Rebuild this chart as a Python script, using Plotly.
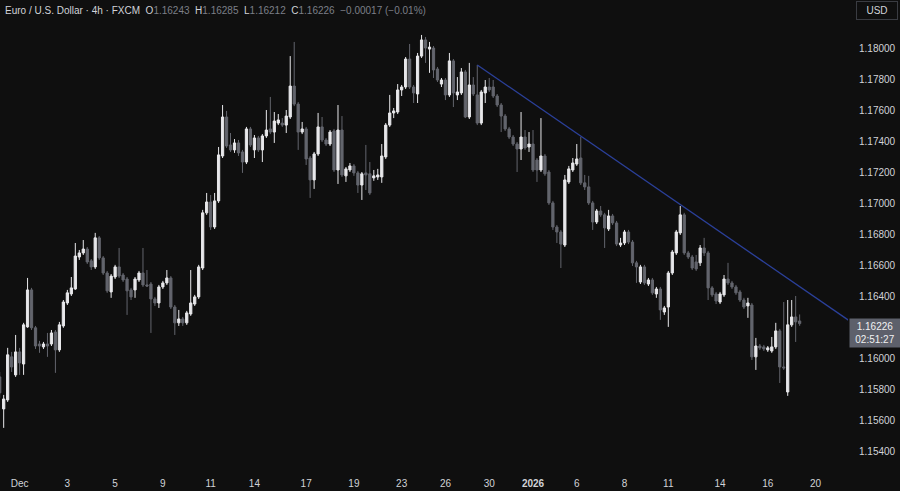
import plotly.graph_objects as go

opens = [
    1.15883, 1.15677, 1.15735, 1.16012, 1.15896, 1.16044, 1.15966, 1.16205, 1.16443, 1.16199,
    1.16095, 1.16076, 1.16095, 1.16095, 1.16172, 1.16057, 1.16211, 1.16359, 1.16417, 1.16449,
    1.16655, 1.16681, 1.16706, 1.16630, 1.16591, 1.16778, 1.16649, 1.16552, 1.16430, 1.16526,
    1.16591, 1.16539, 1.16513, 1.16443, 1.16443, 1.16507, 1.16552, 1.16475, 1.16481, 1.16385,
    1.16359, 1.16462, 1.16488, 1.16520, 1.16333, 1.16231, 1.16256, 1.16231, 1.16288, 1.16352,
    1.16398, 1.16584, 1.16939, 1.17009, 1.16848, 1.17016, 1.17305, 1.17556, 1.17376, 1.17344,
    1.17389, 1.17331, 1.17266, 1.17479, 1.17344, 1.17421, 1.17344, 1.17434, 1.17479, 1.17459,
    1.17517, 1.17517, 1.17504, 1.17556, 1.17755, 1.17639, 1.17459, 1.17479, 1.17292, 1.17151,
    1.17318, 1.17492, 1.17408, 1.17382, 1.17466, 1.17215, 1.17472, 1.17177, 1.17215, 1.17241,
    1.17196, 1.17118, 1.17196, 1.17190, 1.17164, 1.17170, 1.17170, 1.17299, 1.17504, 1.17582,
    1.17588, 1.17730, 1.17749, 1.17929, 1.17749, 1.17704, 1.17948, 1.18052, 1.17993, 1.18000,
    1.17865, 1.17768, 1.17794, 1.17698, 1.17917, 1.17698, 1.17711, 1.17846, 1.17556, 1.17762,
    1.17698, 1.17517, 1.17711, 1.17749, 1.17749, 1.17691, 1.17633, 1.17562, 1.17479, 1.17427,
    1.17382, 1.17350, 1.17427, 1.17363, 1.17382, 1.17279, 1.17215, 1.17305, 1.17202, 1.17003,
    1.16848, 1.16816, 1.16732, 1.17138, 1.17215, 1.17253, 1.17292, 1.17132, 1.17106, 1.17003,
    1.16880, 1.16951, 1.16926, 1.16835, 1.16919, 1.16874, 1.16732, 1.16745, 1.16816, 1.16751,
    1.16617, 1.16494, 1.16591, 1.16481, 1.16507, 1.16417, 1.16449, 1.16301, 1.16333, 1.16552,
    1.16681, 1.16810, 1.16926, 1.16681, 1.16655, 1.16623, 1.16617, 1.16713, 1.16681, 1.16456,
    1.16417, 1.16365, 1.16411, 1.16513, 1.16488, 1.16462, 1.16430, 1.16378, 1.16340, 1.16346,
    1.16012, 1.16082, 1.16076, 1.16057, 1.16050, 1.16076, 1.16179, 1.15947, 1.15786, 1.16218,
    1.16269, 1.16243,
]

highs = [
    1.15915, 1.15767, 1.16070, 1.16044, 1.16153, 1.16070, 1.16231, 1.16520, 1.16456, 1.16211,
    1.16115, 1.16108, 1.16166, 1.16185, 1.16185, 1.16237, 1.16378, 1.16443, 1.16526, 1.16745,
    1.16700, 1.16764, 1.16719, 1.16642, 1.16810, 1.16790, 1.16661, 1.16565, 1.16545, 1.16604,
    1.16713, 1.16552, 1.16526, 1.16456, 1.16526, 1.16565, 1.16713, 1.16571, 1.16494, 1.16398,
    1.16475, 1.16501, 1.16571, 1.16532, 1.16346, 1.16314, 1.16269, 1.16308, 1.16571, 1.16411,
    1.16604, 1.16958, 1.17067, 1.17054, 1.17067, 1.17363, 1.17633, 1.17595, 1.17453, 1.17414,
    1.17408, 1.17344, 1.17492, 1.17492, 1.17440, 1.17434, 1.17446, 1.17601, 1.17685, 1.17588,
    1.17575, 1.17549, 1.17601, 1.17948, 1.18039, 1.17652, 1.17524, 1.17492, 1.17305, 1.17331,
    1.17582, 1.17556, 1.17421, 1.17472, 1.17479, 1.17633, 1.17562, 1.17234, 1.17260, 1.17253,
    1.17209, 1.17202, 1.17376, 1.17266, 1.17215, 1.17222, 1.17382, 1.17517, 1.17698, 1.17614,
    1.17768, 1.17762, 1.17942, 1.18026, 1.17762, 1.17968, 1.18084, 1.18071, 1.18039, 1.18013,
    1.17878, 1.17807, 1.17807, 1.17968, 1.17929, 1.17813, 1.17871, 1.17859, 1.17904, 1.17813,
    1.17891, 1.17730, 1.17794, 1.17807, 1.17794, 1.17704, 1.17646, 1.17575, 1.17492, 1.17440,
    1.17395, 1.17588, 1.17472, 1.17459, 1.17472, 1.17292, 1.17549, 1.17318, 1.17215, 1.17016,
    1.16861, 1.16829, 1.17183, 1.17241, 1.17292, 1.17382, 1.17427, 1.17183, 1.17177, 1.17016,
    1.16964, 1.16983, 1.16939, 1.16958, 1.16932, 1.16887, 1.16778, 1.16829, 1.16829, 1.16764,
    1.16630, 1.16604, 1.16604, 1.16520, 1.16520, 1.16462, 1.16462, 1.16340, 1.16565, 1.16700,
    1.16829, 1.16983, 1.16939, 1.16694, 1.16668, 1.16668, 1.16732, 1.16778, 1.16694, 1.16468,
    1.16430, 1.16430, 1.16539, 1.16617, 1.16501, 1.16475, 1.16443, 1.16392, 1.16392, 1.16359,
    1.16134, 1.16095, 1.16089, 1.16082, 1.16140, 1.16231, 1.16192, 1.16365, 1.16378, 1.16378,
    1.16404, 1.16285,
]

lows = [
    1.15748, 1.15555, 1.15722, 1.15915, 1.15883, 1.15896, 1.15896, 1.16199, 1.16185, 1.16063,
    1.16038, 1.16063, 1.16012, 1.16082, 1.15909, 1.16044, 1.16199, 1.16346, 1.16404, 1.16443,
    1.16636, 1.16668, 1.16610, 1.16571, 1.16578, 1.16636, 1.16539, 1.16424, 1.16392, 1.16513,
    1.16520, 1.16494, 1.16282, 1.16378, 1.16392, 1.16494, 1.16462, 1.16462, 1.16166, 1.16340,
    1.16327, 1.16449, 1.16475, 1.16320, 1.16153, 1.16211, 1.16211, 1.16218, 1.16276, 1.16340,
    1.16385, 1.16571, 1.16926, 1.16829, 1.16835, 1.17003, 1.17292, 1.17357, 1.17331, 1.17325,
    1.17305, 1.17196, 1.17253, 1.17363, 1.17292, 1.17331, 1.17266, 1.17421, 1.17446, 1.17389,
    1.17504, 1.17492, 1.17453, 1.17543, 1.17626, 1.17344, 1.17446, 1.17247, 1.17035, 1.17093,
    1.17305, 1.17395, 1.17369, 1.17369, 1.17202, 1.17125, 1.17170, 1.17138, 1.17202, 1.17177,
    1.17067, 1.17022, 1.17086, 1.17054, 1.17145, 1.17151, 1.17132, 1.17286, 1.17492, 1.17549,
    1.17575, 1.17691, 1.17736, 1.17736, 1.17646, 1.17646, 1.17936, 1.17904, 1.17840, 1.17807,
    1.17781, 1.17749, 1.17665, 1.17685, 1.17620, 1.17665, 1.17698, 1.17549, 1.17543, 1.17691,
    1.17504, 1.17504, 1.17646, 1.17717, 1.17678, 1.17620, 1.17459, 1.17466, 1.17414, 1.17369,
    1.17202, 1.17279, 1.17344, 1.17331, 1.17202, 1.17138, 1.17202, 1.17177, 1.16990, 1.16829,
    1.16745, 1.16584, 1.16719, 1.17125, 1.17202, 1.17241, 1.17118, 1.17086, 1.16990, 1.16829,
    1.16867, 1.16913, 1.16713, 1.16822, 1.16861, 1.16725, 1.16719, 1.16732, 1.16738, 1.16597,
    1.16488, 1.16481, 1.16475, 1.16468, 1.16411, 1.16392, 1.16250, 1.16282, 1.16205, 1.16539,
    1.16668, 1.16797, 1.16668, 1.16642, 1.16571, 1.16565, 1.16597, 1.16661, 1.16378, 1.16398,
    1.16352, 1.16352, 1.16398, 1.16475, 1.16449, 1.16411, 1.16365, 1.16320, 1.16263, 1.15992,
    1.15928, 1.16057, 1.16050, 1.16044, 1.16038, 1.16063, 1.15844, 1.15928, 1.15761, 1.16205,
    1.16108, 1.16212,
]

closes = [
    1.15780, 1.15741, 1.16025, 1.15947, 1.16044, 1.15973, 1.16218, 1.16443, 1.16199, 1.16082,
    1.16082, 1.16095, 1.16082, 1.16166, 1.16057, 1.16218, 1.16365, 1.16424, 1.16456, 1.16661,
    1.16681, 1.16706, 1.16623, 1.16591, 1.16778, 1.16649, 1.16552, 1.16437, 1.16532, 1.16591,
    1.16532, 1.16507, 1.16437, 1.16398, 1.16513, 1.16552, 1.16475, 1.16468, 1.16385, 1.16359,
    1.16462, 1.16488, 1.16520, 1.16333, 1.16231, 1.16256, 1.16231, 1.16295, 1.16359, 1.16398,
    1.16591, 1.16939, 1.17009, 1.16848, 1.17016, 1.17312, 1.17556, 1.17369, 1.17344, 1.17389,
    1.17325, 1.17266, 1.17479, 1.17376, 1.17421, 1.17344, 1.17434, 1.17472, 1.17459, 1.17530,
    1.17537, 1.17504, 1.17562, 1.17755, 1.17639, 1.17459, 1.17479, 1.17286, 1.17151, 1.17318,
    1.17492, 1.17408, 1.17382, 1.17459, 1.17215, 1.17472, 1.17183, 1.17222, 1.17241, 1.17196,
    1.17118, 1.17190, 1.17183, 1.17067, 1.17177, 1.17183, 1.17305, 1.17504, 1.17582, 1.17595,
    1.17730, 1.17749, 1.17929, 1.17749, 1.17711, 1.17948, 1.18052, 1.18000, 1.18006, 1.17859,
    1.17794, 1.17794, 1.17698, 1.17917, 1.17711, 1.17717, 1.17846, 1.17556, 1.17762, 1.17704,
    1.17517, 1.17717, 1.17749, 1.17730, 1.17691, 1.17633, 1.17562, 1.17479, 1.17427, 1.17382,
    1.17350, 1.17427, 1.17357, 1.17382, 1.17215, 1.17215, 1.17305, 1.17190, 1.17003, 1.16848,
    1.16816, 1.16738, 1.17151, 1.17222, 1.17260, 1.17286, 1.17132, 1.17106, 1.17003, 1.16880,
    1.16951, 1.16926, 1.16842, 1.16919, 1.16874, 1.16738, 1.16745, 1.16816, 1.16751, 1.16617,
    1.16591, 1.16591, 1.16488, 1.16507, 1.16424, 1.16449, 1.16314, 1.16327, 1.16552, 1.16687,
    1.16816, 1.16926, 1.16681, 1.16655, 1.16584, 1.16578, 1.16713, 1.16681, 1.16456, 1.16411,
    1.16372, 1.16417, 1.16513, 1.16488, 1.16462, 1.16424, 1.16378, 1.16333, 1.16359, 1.16012,
    1.16082, 1.16070, 1.16063, 1.16070, 1.16076, 1.16179, 1.15947, 1.15941, 1.16218, 1.16269,
    1.16237, 1.16226,
]

bar_index = list(range(len(closes)))

date_tick_pos = [5, 17, 29, 41, 53, 64, 77, 89, 101, 112, 123, 134, 145, 157, 168, 181, 193, 205]
date_tick_text = ["Dec", "3", "5", "9", "11", "14", "17", "19", "23", "26", "30", "<b>2026</b>",
                  "6", "8", "11", "14", "16", "20"]

price_ticks = [1.180, 1.178, 1.176, 1.174, 1.172, 1.170, 1.168, 1.166, 1.164, 1.160, 1.158, 1.156, 1.154]

trend_x = [120, 214]
trend_y = [1.17891, 1.16235]

last_price = 1.16226
countdown = "02:51:27"

BG = "#0f0f0f"
UP = "#e8e8eb"
DOWN = "#63656d"
TXT = "#d1d3d8"
DIM = "#7c7f88"
FONT = "Liberation Sans, Arial, sans-serif"

fig = go.Figure()

fig.add_trace(go.Candlestick(
    x=bar_index, open=opens, high=highs, low=lows, close=closes,
    increasing=dict(line=dict(color=UP, width=1), fillcolor=UP),
    decreasing=dict(line=dict(color=DOWN, width=1), fillcolor=DOWN),
    whiskerwidth=0, hoverinfo="skip", showlegend=False,
))

fig.add_trace(go.Scatter(
    x=trend_x, y=trend_y, mode="lines",
    line=dict(color="#2b409a", width=1.3),
    hoverinfo="skip", showlegend=False, cliponaxis=True,
))

sp = "\u00a0"
title = (
    f"Euro / U.S. Dollar · 4h · FXCM{sp}{sp}"
    f"O<span style='color:{DIM}'>{opens[-1]:.5f}</span>{sp}{sp}"
    f"H<span style='color:{DIM}'>{highs[-1]:.5f}</span>{sp}{sp}"
    f"L<span style='color:{DIM}'>{lows[-1]:.5f}</span>{sp}{sp}"
    f"C<span style='color:{DIM}'>{closes[-1]:.5f}</span>{sp}{sp}"
    f"<span style='color:{DIM}'>−0.00017 (−0.01%)</span>"
)

fig.update_layout(
    width=900, height=491,
    paper_bgcolor=BG, plot_bgcolor=BG,
    margin=dict(l=0, r=52, t=0, b=26, autoexpand=False),
    boxgap=0.2,
    font=dict(family=FONT, size=10, color=TXT),
    xaxis=dict(
        range=[0.075, 213.15], showgrid=False, zeroline=False,
        tickmode="array", tickvals=date_tick_pos, ticktext=date_tick_text,
        ticks="", showline=False, rangeslider=dict(visible=False),
        tickfont=dict(size=10, color=TXT, family=FONT), automargin=False,
        ticklabelstandoff=11,
    ),
    yaxis=dict(
        range=[1.15316, 1.18309], side="right", showgrid=False, zeroline=False,
        tickmode="array", tickvals=price_ticks,
        ticktext=[f"{v:.5f}" for v in price_ticks],
        ticks="", showline=False, automargin=False,
        tickfont=dict(size=10, color=TXT, family=FONT),
        ticklabelstandoff=10,
    ),
    annotations=[
        dict(text=title, xref="paper", yref="paper", x=0, y=1, xanchor="left", yanchor="top",
             xshift=3, yshift=-3, showarrow=False, font=dict(size=10, color=TXT, family=FONT)),
        dict(text="USD", xref="paper", yref="paper", x=1, y=1, xanchor="right", yanchor="top",
             xshift=50, yshift=-1, showarrow=False, bordercolor="#3a3c42", borderwidth=1,
             borderpad=3, bgcolor=BG, width=34, font=dict(size=10, color=TXT, family=FONT)),
        dict(text=f"{last_price:.5f}<br>{countdown}", xref="paper", yref="y", x=1, y=last_price,
             xanchor="left", yanchor="top", xshift=1, yshift=6, showarrow=False,
             bgcolor="#5d606b", borderpad=2, width=46,
             font=dict(size=10, color="#f0f0f2", family=FONT)),
    ],
)

fig.write_html(
    "out.html",
    config={"displayModeBar": False, "staticPlot": True},
    post_script="document.body.style.margin='0px';document.body.style.background='#0f0f0f';",
)
